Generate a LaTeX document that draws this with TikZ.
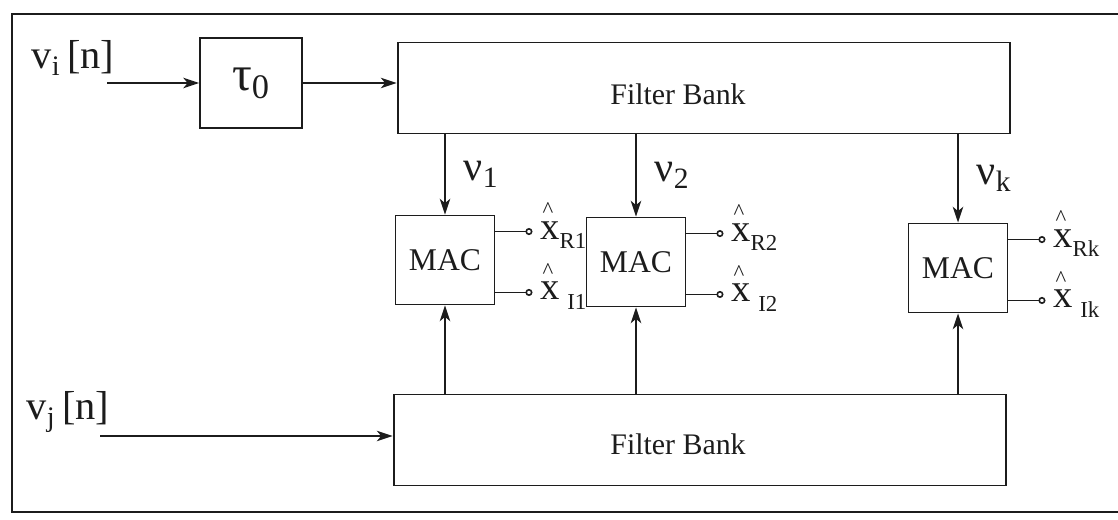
\documentclass[tikz,border=0pt]{standalone}
\usepackage{fontspec}
\setmainfont{Liberation Serif}
\usepackage{tikz}
\usetikzlibrary{arrows.meta,calc}
\definecolor{scan}{HTML}{1C1C1C}
\newcommand{\xest}[2][0pt]{\makebox[0pt][l]{\raisebox{0.55em}{\kern0.06em\fontsize{13}{13}\selectfont\^{}}}x\kern#1\raisebox{-0.25em}{\fontsize{13}{13}\selectfont #2}}

\begin{document}
\begin{tikzpicture}[x=0.02cm, y=-0.02cm, color=scan,
  box/.style={draw, line width=1.1pt, inner sep=0pt},
  mac/.style={box, minimum width=1.98cm, minimum height=1.78cm, font=\fontsize{18}{20}\selectfont},
  bank/.style={box, minimum width=12.26cm, minimum height=1.82cm},
  sig/.style={-{Stealth[length=9pt,width=6pt,inset=2.5pt]}, line width=0.8pt},
  tap/.style={-{Circle[open,length=4pt,width=4pt]}, line width=0.9pt},
  outlbl/.style={anchor=base west, inner sep=0pt, xshift=0.14cm, yshift=-0.15cm, font=\fontsize{22}{24}\selectfont},
  nulbl/.style={inner sep=0pt, right=0.36cm, font=\fontsize{24}{26}\selectfont},
  inlbl/.style={inner sep=0pt, font=\fontsize{23}{25}\selectfont}]
  \useasboundingbox (0,0) rectangle (1118,520);
  \draw[line width=1.2pt] (1118,14) -- (12,14) -- (12,512) -- (1118,512);

  \node[inlbl] (vi) at (73,58) {v\textsubscript{i}\,[n]};
  \node[inlbl] (vj) at (68,412) {v\textsubscript{j}\,[n]};
  \coordinate (viin) at (107,83);
  \coordinate (vjin) at (100,436);

  \node[box, minimum width=2.04cm, minimum height=1.8cm, font=\fontsize{28}{30}\selectfont] (tau) at (251,83) {τ\textsubscript{0}};
  \node[bank, label={[font=\fontsize{17}{19}\selectfont, xshift=-0.52cm, yshift=-0.12cm]center:Filter Bank}] (fbtop) at (704,88) {};
  \node[bank, label={[font=\fontsize{17}{19}\selectfont, xshift=-0.44cm, yshift=-0.08cm]center:Filter Bank}] (fbbot) at (700,440) {};

  \node[mac] (mac1) at (445,260) {MAC};
  \node[mac] (mac2) at (636,262) {MAC};
  \node[mac] (mac3) at (958,268) {MAC};

  \draw[sig] (viin) -- (tau);
  \draw[sig] (tau) -- (tau -| fbtop.west);
  \draw[sig] (vjin) -- (vjin -| fbbot.west);

  \draw[sig] (fbtop.south -| mac1) -- node[nulbl] {ν\textsubscript{1}} (mac1);
  \draw[sig] (fbtop.south -| mac2) -- node[nulbl] {ν\textsubscript{2}} (mac2);
  \draw[sig] (fbtop.south -| mac3) -- node[nulbl] {ν\textsubscript{k}} (mac3);
  \draw[sig] (fbbot.north -| mac1) -- (mac1);
  \draw[sig] (fbbot.north -| mac2) -- (mac2);
  \draw[sig] (fbbot.north -| mac3) -- (mac3);

  % MAC outputs
  \draw[tap] ($(mac1.north east)+(0,17)$) -- ++(37,0) node[outlbl] {\xest{R1}};
  \draw[tap] ($(mac1.south east)+(0,-13)$) -- ++(37,0) node[outlbl] {\xest[0.2em]{I1}};
  \draw[tap] ($(mac2.north east)+(0,17)$) -- ++(37,0) node[outlbl] {\xest{R2}};
  \draw[tap] ($(mac2.south east)+(0,-13)$) -- ++(37,0) node[outlbl] {\xest[0.2em]{I2}};
  \draw[tap] ($(mac3.north east)+(0,17)$) -- ++(37,0) node[outlbl] {\xest{Rk}};
  \draw[tap] ($(mac3.south east)+(0,-13)$) -- ++(37,0) node[outlbl] {\xest[0.2em]{Ik}};
\end{tikzpicture}
\end{document}
